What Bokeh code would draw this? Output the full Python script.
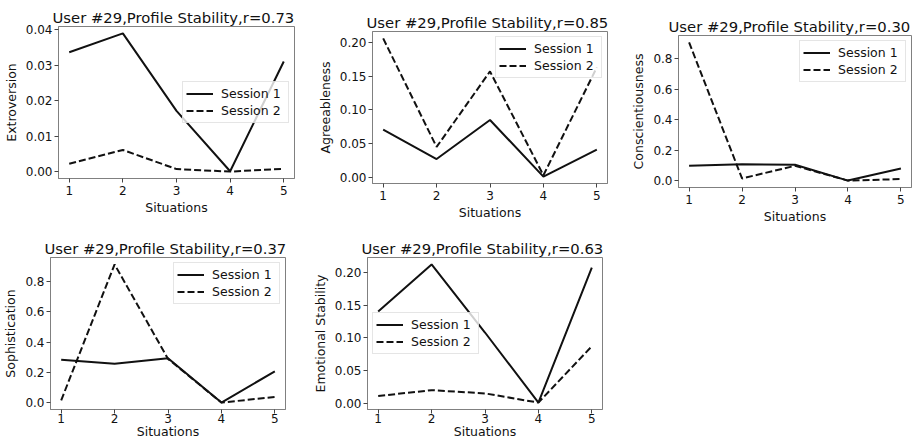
from bokeh.plotting import figure
from bokeh.layouts import row, column
from bokeh.models import FixedTicker, PrintfTickFormatter, Range1d, Legend, LegendItem, Spacer
from bokeh.embed import file_html
from bokeh.resources import INLINE

# ---- data ----
situations = [1, 2, 3, 4, 5]
traits = ["Extroversion", "Agreeableness", "Conscientiousness", "Sophistication", "Emotional Stability"]
r_values = ["0.73", "0.85", "0.30", "0.37", "0.63"]
user_id = 29

extro_s1 = [0.0337, 0.0390, 0.0172, 0.0002, 0.0311]
extro_s2 = [0.0023, 0.0062, 0.0008, 0.0001, 0.0009]
agree_s1 = [0.0705, 0.0270, 0.0850, 0.0010, 0.0410]
agree_s2 = [0.2060, 0.0450, 0.1570, 0.0030, 0.1630]
consc_s1 = [0.098, 0.108, 0.105, 0.001, 0.081]
consc_s2 = [0.908, 0.015, 0.098, 0.001, 0.011]
soph_s1 = [0.284, 0.258, 0.294, 0.002, 0.208]
soph_s2 = [0.017, 0.912, 0.290, 0.002, 0.039]
emo_s1 = [0.140, 0.212, 0.108, 0.001, 0.207]
emo_s2 = [0.011, 0.020, 0.015, 0.001, 0.087]

yticks_small = [0.00, 0.01, 0.02, 0.03, 0.04]
yticks_mid = [0.00, 0.05, 0.10, 0.15, 0.20]
yticks_big = [0.0, 0.2, 0.4, 0.6, 0.8]
series_names = ["Session 1", "Session 2"]

FONT = "DejaVu Sans"
FRAME = "#808080"


def make_fig(trait, r, s1, s2, yticks, fmt, loc, left, fw, right, bottom,
             title_offset, lab_standoff, axlab_standoff):
    lo = min(min(s1), min(s2))
    hi = max(max(s1), max(s2))
    pad = (hi - lo) * 0.05
    p = figure(frame_width=fw, frame_height=152,
               min_border_left=left, min_border_right=right,
               min_border_top=0, min_border_bottom=bottom,
               x_range=Range1d(0.8, 5.2), y_range=Range1d(lo - pad, hi + pad),
               output_backend="svg", toolbar_location=None,
               title="User #%d,Profile Stability,r=%s" % (user_id, r))
    p.title.text_font = FONT
    p.title.text_font_size = "14.8px"
    p.title.text_font_style = "normal"
    p.title.align = "left"
    p.title.offset = title_offset
    p.title.standoff = 2
    p.title.text_color = "#111111"

    p.background_fill_color = "white"
    p.border_fill_color = "white"
    p.outline_line_color = FRAME
    p.outline_line_width = 1
    p.xgrid.visible = False
    p.ygrid.visible = False

    p.xaxis.ticker = FixedTicker(ticks=situations)
    p.yaxis.ticker = FixedTicker(ticks=yticks)
    p.yaxis.formatter = PrintfTickFormatter(format=fmt)
    p.xaxis.axis_label = "Situations"
    p.yaxis.axis_label = trait
    for ax in (p.xaxis, p.yaxis):
        ax.axis_line_color = FRAME
        ax.major_tick_line_color = "#444444"
        ax.major_tick_out = 4
        ax.major_tick_in = 0
        ax.minor_tick_line_color = None
        ax.major_label_text_font = FONT
        ax.major_label_text_font_size = "12px"
        ax.major_label_text_color = "#111111"
        ax.axis_label_text_font = FONT
        ax.axis_label_text_font_size = "12.5px"
        ax.axis_label_text_font_style = "normal"
        ax.axis_label_text_color = "#111111"
    p.xaxis.major_label_standoff = lab_standoff
    p.xaxis.axis_label_standoff = axlab_standoff
    p.yaxis.major_label_standoff = 2
    p.yaxis.axis_label_standoff = 4

    l1 = p.line(situations, s1, line_color="#111111", line_width=2)
    l2 = p.line(situations, s2, line_color="#111111", line_width=2, line_dash="7 3")
    leg = Legend(items=[LegendItem(label=series_names[0], renderers=[l1]),
                        LegendItem(label=series_names[1], renderers=[l2])],
                 location=loc)
    leg.margin = 5
    leg.padding = 3
    leg.spacing = 0
    leg.glyph_width = 27
    leg.glyph_height = 17
    leg.label_height = 17
    leg.label_width = 64
    leg.label_standoff = 8
    leg.label_text_font = FONT
    leg.label_text_font_size = "12.5px"
    leg.label_text_color = "#111111"
    leg.border_line_color = "#cccccc"
    leg.border_line_width = 1
    leg.background_fill_color = "white"
    leg.background_fill_alpha = 0.8
    p.add_layout(leg, "center")
    return p


p1 = make_fig(traits[0], r_values[0], extro_s1, extro_s2, yticks_small, "%.2f", "center_right",
              44, 236, 20, 58, -6, 3, 2)
p2 = make_fig(traits[1], r_values[1], agree_s1, agree_s2, yticks_mid, "%.2f", "top_right",
              54, 235, 11, 53, -6, 3, 2)
p3 = make_fig(traits[2], r_values[2], consc_s1, consc_s2, yticks_big, "%.1f", "top_right",
              60, 233, 3, 49, -10, 3, 2)
p4 = make_fig(traits[3], r_values[3], soph_s1, soph_s2, yticks_big, "%.1f", "top_right",
              41, 235, 24, 28, -6, 0, -2)
p5 = make_fig(traits[4], r_values[4], emo_s1, emo_s2, yticks_mid, "%.2f", "center_left",
              54, 235, 11, 28, -6, 0, -2)

top_row = row(column(Spacer(height=5), p1),
              column(Spacer(height=10), p2),
              column(Spacer(height=14), p3))
layout = column(top_row, row(p4, p5))
open("out.html", "w").write(file_html(layout, INLINE))
